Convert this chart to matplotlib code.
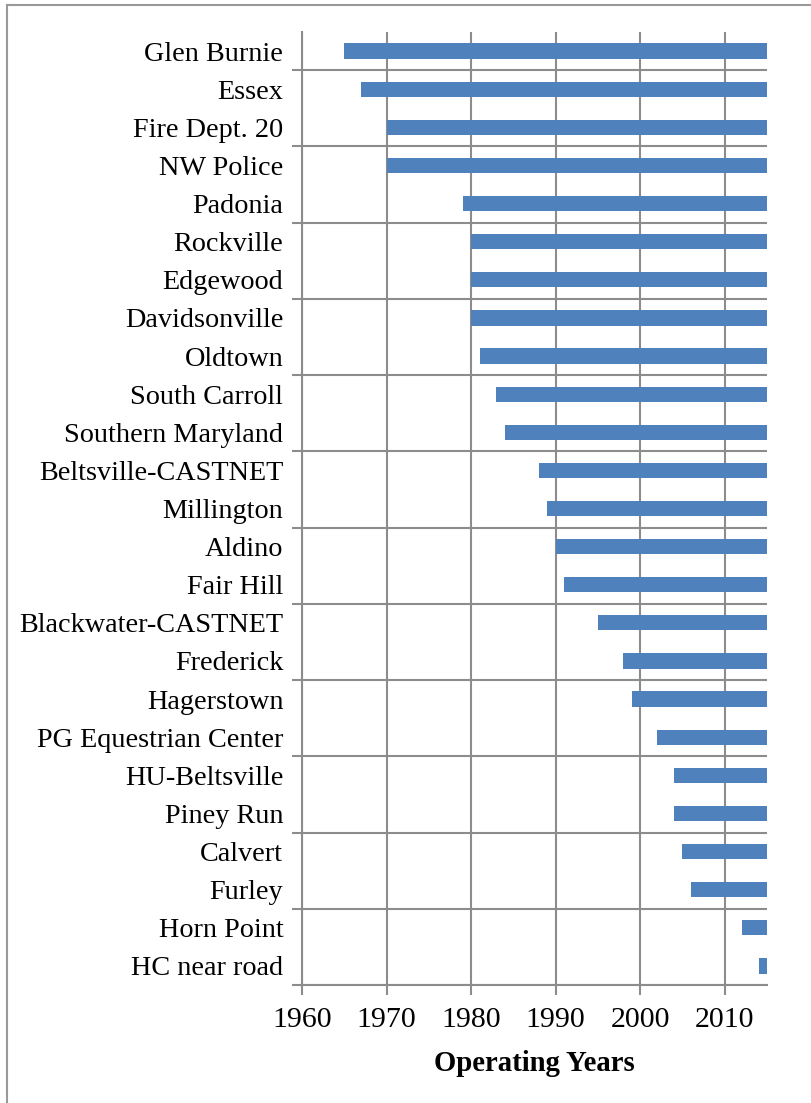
import numpy as np
import matplotlib
matplotlib.use('Agg')
import matplotlib.pyplot as plt
from matplotlib.lines import Line2D

sites = ['Glen Burnie', 'Essex', 'Fire Dept. 20', 'NW Police', 'Padonia',
         'Rockville', 'Edgewood', 'Davidsonville', 'Oldtown', 'South Carroll',
         'Southern Maryland', 'Beltsville-CASTNET', 'Millington', 'Aldino',
         'Fair Hill', 'Blackwater-CASTNET', 'Frederick', 'Hagerstown',
         'PG Equestrian Center', 'HU-Beltsville', 'Piney Run', 'Calvert',
         'Furley', 'Horn Point', 'HC near road']
start_year = [1965, 1967, 1970, 1970, 1979,
              1980, 1980, 1980, 1981, 1983,
              1984, 1988, 1989, 1990,
              1991, 1995, 1998, 1999,
              2002, 2004, 2004, 2005,
              2006, 2012, 2014]
end_year = 2015
year_ticks = [1960, 1970, 1980, 1990, 2000, 2010]

plt.rcParams['font.family'] = ['Liberation Serif', 'DejaVu Serif']
grid_col = '#8c8c8c'

fig = plt.figure(figsize=(8.11, 11.03), dpi=100)
ax = fig.add_axes([0.3724, 0.107, 0.5733, 0.864])

n = len(sites)
ypos = np.arange(n)[::-1]  # first site at top
starts = np.array(start_year)
ax.barh(ypos, end_year - starts, left=starts, height=0.4, color='#4F81BD',
        zorder=3)

ax.set_xlim(1960, end_year)
ax.set_ylim(-0.5, n - 0.5)
ax.set_xticks(year_ticks)
ax.set_xticklabels([str(y) for y in year_ticks], fontsize=21.5)

# category labels, with tick marks between every second pair of categories
ax.set_yticks(ypos)
ax.set_yticklabels(sites, fontsize=20.3)
ax.tick_params(axis='y', length=0, pad=13.5)
bounds = np.arange(-0.5, n - 0.5, 2)
ax.set_yticks(bounds, minor=True)
ax.tick_params(axis='y', which='minor', length=7, width=1.5, color=grid_col)
ax.tick_params(axis='x', length=7, width=1.5, color=grid_col, pad=9)

for b in bounds:
    ax.axhline(b, color=grid_col, lw=1.5, zorder=1)
for x in year_ticks:
    ax.axvline(x, color=grid_col, lw=1.5, zorder=1)

for s in ['top', 'right']:
    ax.spines[s].set_visible(False)
ax.spines['left'].set_color(grid_col)
ax.spines['left'].set_linewidth(1.5)
ax.spines['bottom'].set_color(grid_col)
ax.spines['bottom'].set_linewidth(1.5)

ax.set_xlabel('Operating Years', fontsize=20.7, fontweight='bold', labelpad=12)

# outer chart frame (left and top edges visible)
fig.add_artist(Line2D([0.0086, 0.0086], [0, 0.9955], transform=fig.transFigure,
                      color='#999999', lw=1.5))
fig.add_artist(Line2D([0.0086, 1.0], [0.9955, 0.9955], transform=fig.transFigure,
                      color='#999999', lw=1.5))

fig.savefig('out.png', dpi=100)
